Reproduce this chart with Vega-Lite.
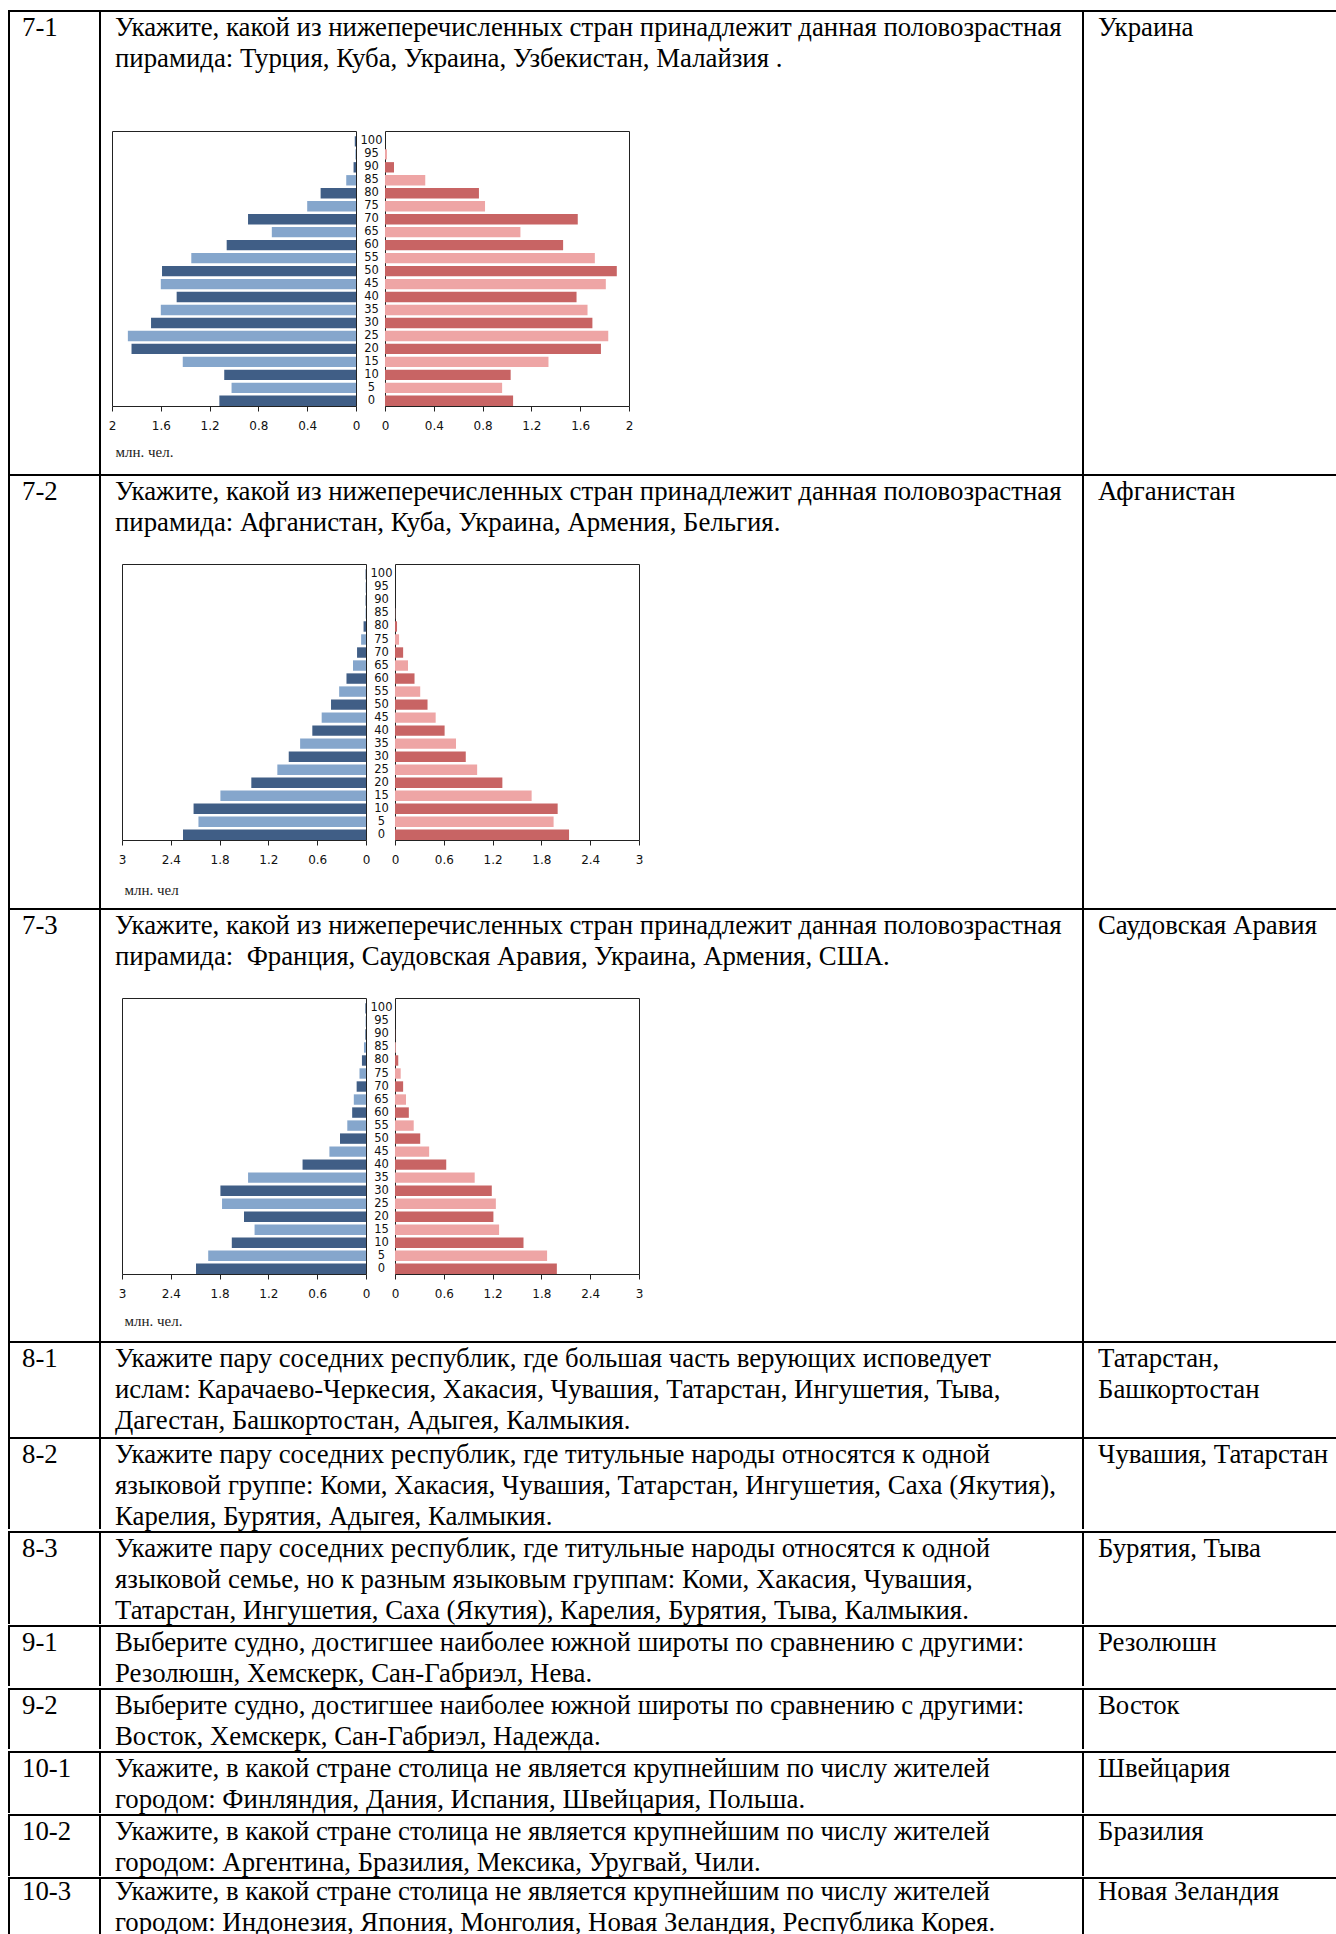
{
  "$schema": "https://vega.github.io/schema/vega-lite/v6.json",
  "background": "white",
  "padding": {"left": 8, "top": 10, "right": 0, "bottom": 0},
  "spacing": 0,
  "config": {
    "view": {"stroke": null},
    "text": {"font": "Liberation Serif", "fontSize": 26.8, "lineHeight": 31, "lineBreak": "\n", "align": "left", "baseline": "top", "color": "#000"},
    "axis": {"labelFont": "DejaVu Sans", "labelFontSize": 12, "labelColor": "#111", "tickColor": "#222", "tickSize": 5, "domain": false, "grid": false, "labelFlush": false, "labelOverlap": false, "labelPadding": 9, "titleFont": "Liberation Serif", "titleFontWeight": "normal", "titleFontSize": 15, "titleColor": "#222"}
  },
  "datasets": {
    "cells": [
      {"id": "7-1", "question": "Укажите, какой из нижеперечисленных стран принадлежит данная половозрастная\nпирамида: Турция, Куба, Украина, Узбекистан, Малайзия .", "answer": "Украина"},
      {"id": "7-2", "question": "Укажите, какой из нижеперечисленных стран принадлежит данная половозрастная\nпирамида: Афганистан, Куба, Украина, Армения, Бельгия.", "answer": "Афганистан"},
      {"id": "7-3", "question": "Укажите, какой из нижеперечисленных стран принадлежит данная половозрастная\nпирамида:\u00a0 Франция, Саудовская Аравия, Украина, Армения, США.", "answer": "Саудовская Аравия"},
      {"id": "8-1", "question": "Укажите пару соседних республик, где большая часть верующих исповедует\nислам: Карачаево-Черкесия, Хакасия, Чувашия, Татарстан, Ингушетия, Тыва,\nДагестан, Башкортостан, Адыгея, Калмыкия.", "answer": "Татарстан,\nБашкортостан"},
      {"id": "8-2", "question": "Укажите пару соседних республик, где титульные народы относятся к одной\nязыковой группе: Коми, Хакасия, Чувашия, Татарстан, Ингушетия, Саха (Якутия),\nКарелия, Бурятия, Адыгея, Калмыкия.", "answer": "Чувашия, Татарстан"},
      {"id": "8-3", "question": "Укажите пару соседних республик, где титульные народы относятся к одной\nязыковой семье, но к разным языковым группам: Коми, Хакасия, Чувашия,\nТатарстан, Ингушетия, Саха (Якутия), Карелия, Бурятия, Тыва, Калмыкия.", "answer": "Бурятия, Тыва"},
      {"id": "9-1", "question": "Выберите судно, достигшее наиболее южной широты по сравнению с другими:\nРезолюшн, Хемскерк, Сан-Габриэл, Нева.", "answer": "Резолюшн"},
      {"id": "9-2", "question": "Выберите судно, достигшее наиболее южной широты по сравнению с другими:\nВосток, Хемскерк, Сан-Габриэл, Надежда.", "answer": "Восток"},
      {"id": "10-1", "question": "Укажите, в какой стране столица не является крупнейшим по числу жителей\nгородом: Финляндия, Дания, Испания, Швейцария, Польша.", "answer": "Швейцария"},
      {"id": "10-2", "question": "Укажите, в какой стране столица не является крупнейшим по числу жителей\nгородом: Аргентина, Бразилия, Мексика, Уругвай, Чили.", "answer": "Бразилия"},
      {"id": "10-3", "question": "Укажите, в какой стране столица не является крупнейшим по числу жителей\nгородом: Индонезия, Япония, Монголия, Новая Зеландия, Республика Корея.", "answer": "Новая Зеландия"}
    ],
    "pyr": [
      {"chart": "7-1", "age": 100, "male": 0.01, "female": 0.0},
      {"chart": "7-1", "age": 95, "male": 0.005, "female": 0.016},
      {"chart": "7-1", "age": 90, "male": 0.02, "female": 0.074},
      {"chart": "7-1", "age": 85, "male": 0.08, "female": 0.33},
      {"chart": "7-1", "age": 80, "male": 0.29, "female": 0.77},
      {"chart": "7-1", "age": 75, "male": 0.40, "female": 0.82},
      {"chart": "7-1", "age": 70, "male": 0.885, "female": 1.58},
      {"chart": "7-1", "age": 65, "male": 0.69, "female": 1.11},
      {"chart": "7-1", "age": 60, "male": 1.06, "female": 1.46},
      {"chart": "7-1", "age": 55, "male": 1.35, "female": 1.72},
      {"chart": "7-1", "age": 50, "male": 1.59, "female": 1.90},
      {"chart": "7-1", "age": 45, "male": 1.60, "female": 1.81},
      {"chart": "7-1", "age": 40, "male": 1.47, "female": 1.57},
      {"chart": "7-1", "age": 35, "male": 1.60, "female": 1.66},
      {"chart": "7-1", "age": 30, "male": 1.68, "female": 1.70},
      {"chart": "7-1", "age": 25, "male": 1.87, "female": 1.83},
      {"chart": "7-1", "age": 20, "male": 1.84, "female": 1.77},
      {"chart": "7-1", "age": 15, "male": 1.42, "female": 1.34},
      {"chart": "7-1", "age": 10, "male": 1.08, "female": 1.03},
      {"chart": "7-1", "age": 5, "male": 1.02, "female": 0.96},
      {"chart": "7-1", "age": 0, "male": 1.12, "female": 1.05},
      {"chart": "7-2", "age": 100, "male": 0.005, "female": 0.0},
      {"chart": "7-2", "age": 95, "male": 0.005, "female": 0.0},
      {"chart": "7-2", "age": 90, "male": 0.005, "female": 0.0},
      {"chart": "7-2", "age": 85, "male": 0.005, "female": 0.003},
      {"chart": "7-2", "age": 80, "male": 0.03, "female": 0.025},
      {"chart": "7-2", "age": 75, "male": 0.06, "female": 0.05},
      {"chart": "7-2", "age": 70, "male": 0.11, "female": 0.10},
      {"chart": "7-2", "age": 65, "male": 0.16, "female": 0.16},
      {"chart": "7-2", "age": 60, "male": 0.24, "female": 0.24},
      {"chart": "7-2", "age": 55, "male": 0.33, "female": 0.31},
      {"chart": "7-2", "age": 50, "male": 0.43, "female": 0.40},
      {"chart": "7-2", "age": 45, "male": 0.545, "female": 0.50},
      {"chart": "7-2", "age": 40, "male": 0.66, "female": 0.61},
      {"chart": "7-2", "age": 35, "male": 0.81, "female": 0.75},
      {"chart": "7-2", "age": 30, "male": 0.95, "female": 0.87},
      {"chart": "7-2", "age": 25, "male": 1.09, "female": 1.01},
      {"chart": "7-2", "age": 20, "male": 1.41, "female": 1.32},
      {"chart": "7-2", "age": 15, "male": 1.79, "female": 1.68},
      {"chart": "7-2", "age": 10, "male": 2.12, "female": 2.00},
      {"chart": "7-2", "age": 5, "male": 2.06, "female": 1.95},
      {"chart": "7-2", "age": 0, "male": 2.25, "female": 2.14},
      {"chart": "7-3", "age": 100, "male": 0.008, "female": 0.0},
      {"chart": "7-3", "age": 95, "male": 0.005, "female": 0.0},
      {"chart": "7-3", "age": 90, "male": 0.008, "female": 0.002},
      {"chart": "7-3", "age": 85, "male": 0.025, "female": 0.01},
      {"chart": "7-3", "age": 80, "male": 0.05, "female": 0.04},
      {"chart": "7-3", "age": 75, "male": 0.08, "female": 0.07},
      {"chart": "7-3", "age": 70, "male": 0.115, "female": 0.10},
      {"chart": "7-3", "age": 65, "male": 0.15, "female": 0.135},
      {"chart": "7-3", "age": 60, "male": 0.17, "female": 0.17},
      {"chart": "7-3", "age": 55, "male": 0.23, "female": 0.23},
      {"chart": "7-3", "age": 50, "male": 0.32, "female": 0.31},
      {"chart": "7-3", "age": 45, "male": 0.45, "female": 0.42},
      {"chart": "7-3", "age": 40, "male": 0.78, "female": 0.63},
      {"chart": "7-3", "age": 35, "male": 1.45, "female": 0.98},
      {"chart": "7-3", "age": 30, "male": 1.79, "female": 1.19},
      {"chart": "7-3", "age": 25, "male": 1.77, "female": 1.24},
      {"chart": "7-3", "age": 20, "male": 1.50, "female": 1.21},
      {"chart": "7-3", "age": 15, "male": 1.37, "female": 1.28},
      {"chart": "7-3", "age": 10, "male": 1.65, "female": 1.58},
      {"chart": "7-3", "age": 5, "male": 1.94, "female": 1.87},
      {"chart": "7-3", "age": 0, "male": 2.09, "female": 1.99}
    ]
  },
  "vconcat": [
    {"width": 1328, "height": 2, "view": {"fill": "#000", "stroke": null}, "data": {"values": []}, "mark": "point"},
    {"hconcat": [
      {"width": 2, "height": 462, "view": {"fill": "#000", "stroke": null}, "data": {"values": []}, "mark": "point"},
      {"width": 89, "height": 462, "data": {"name": "cells"}, "transform": [{"filter": "datum.id === '7-1'"}], "mark": {"type": "text", "x": 12, "y": 3}, "encoding": {"text": {"field": "id", "type": "nominal"}}},
      {"width": 2, "height": 462, "view": {"fill": "#000", "stroke": null}, "data": {"values": []}, "mark": "point"},
      {"vconcat": [
        {"width": 981, "height": 118, "data": {"name": "cells"}, "transform": [{"filter": "datum.id === '7-1'"}], "mark": {"type": "text", "x": 14, "y": 3}, "encoding": {"text": {"field": "question", "type": "nominal"}}},
        {"hconcat": [
          {"width": 11, "height": 343, "data": {"values": []}, "mark": "point"},
          {"width": 244, "height": 275, "data": {"name": "pyr"}, "transform": [{"filter": "datum.chart === '7-1'"}], "view": {"stroke": "#222", "strokeWidth": 1}, "mark": {"type": "bar"},
           "encoding": {
             "y": {"field": "age", "type": "ordinal", "sort": "descending", "scale": {"paddingInner": 0.2, "paddingOuter": 0.2, "align": 1}, "axis": null},
             "x": {"field": "male", "type": "quantitative", "scale": {"domain": [0, 2], "reverse": true, "nice": false}, "axis": {"values": [0, 0.4, 0.8, 1.2, 1.6, 2], "format": "~g", "title": "млн. чел.", "titleX": 3, "titleY": 45, "titleAlign": "left", "titleBaseline": "middle"}},
             "color": {"condition": {"test": "datum.age % 10 === 0", "value": "#405e86"}, "value": "#85a6cc"}}},
          {"width": 29, "height": 343, "data": {"values": []}, "mark": "point"},
          {"width": 244, "height": 275, "data": {"name": "pyr"}, "transform": [{"filter": "datum.chart === '7-1'"}], "view": {"stroke": "#222", "strokeWidth": 1}, "mark": {"type": "bar"},
           "encoding": {
             "y": {"field": "age", "type": "ordinal", "sort": "descending", "scale": {"paddingInner": 0.2, "paddingOuter": 0.2, "align": 1}, "axis": {"orient": "left", "ticks": false, "labelAlign": "center", "labelBaseline": "middle", "labelPadding": 14, "labelFontSize": 11.5, "title": null}},
             "x": {"field": "female", "type": "quantitative", "scale": {"domain": [0, 2], "nice": false}, "axis": {"values": [0, 0.4, 0.8, 1.2, 1.6, 2], "format": "~g", "title": null}},
             "color": {"condition": {"test": "datum.age % 10 === 0", "value": "#c86464"}, "value": "#eea5a5"}}},
          {"width": 453, "height": 343, "data": {"values": []}, "mark": "point"}
        ], "spacing": 0, "bounds": "flush", "resolve": {"scale": {"x": "independent", "y": "independent"}}}
      ], "spacing": 0},
      {"width": 2, "height": 462, "view": {"fill": "#000", "stroke": null}, "data": {"values": []}, "mark": "point"},
      {"width": 252, "height": 462, "data": {"name": "cells"}, "transform": [{"filter": "datum.id === '7-1'"}], "mark": {"type": "text", "x": 14, "y": 3}, "encoding": {"text": {"field": "answer", "type": "nominal"}}}
    ], "spacing": 0},
    {"width": 1328, "height": 2, "view": {"fill": "#000", "stroke": null}, "data": {"values": []}, "mark": "point"},
    {"hconcat": [
      {"width": 2, "height": 432, "view": {"fill": "#000", "stroke": null}, "data": {"values": []}, "mark": "point"},
      {"width": 89, "height": 432, "data": {"name": "cells"}, "transform": [{"filter": "datum.id === '7-2'"}], "mark": {"type": "text", "x": 12, "y": 3}, "encoding": {"text": {"field": "id", "type": "nominal"}}},
      {"width": 2, "height": 432, "view": {"fill": "#000", "stroke": null}, "data": {"values": []}, "mark": "point"},
      {"vconcat": [
        {"width": 981, "height": 87, "data": {"name": "cells"}, "transform": [{"filter": "datum.id === '7-2'"}], "mark": {"type": "text", "x": 14, "y": 3}, "encoding": {"text": {"field": "question", "type": "nominal"}}},
        {"hconcat": [
          {"width": 21, "height": 344, "data": {"values": []}, "mark": "point"},
          {"width": 244, "height": 276, "data": {"name": "pyr"}, "transform": [{"filter": "datum.chart === '7-2'"}], "view": {"stroke": "#222", "strokeWidth": 1}, "mark": {"type": "bar"},
           "encoding": {
             "y": {"field": "age", "type": "ordinal", "sort": "descending", "scale": {"paddingInner": 0.2, "paddingOuter": 0.2, "align": 1}, "axis": null},
             "x": {"field": "male", "type": "quantitative", "scale": {"domain": [0, 3], "reverse": true, "nice": false}, "axis": {"values": [0, 0.6, 1.2, 1.8, 2.4, 3], "format": "~g", "title": "млн. чел", "titleX": 2, "titleY": 49, "titleAlign": "left", "titleBaseline": "middle"}},
             "color": {"condition": {"test": "datum.age % 10 === 0", "value": "#405e86"}, "value": "#85a6cc"}}},
          {"width": 29, "height": 344, "data": {"values": []}, "mark": "point"},
          {"width": 244, "height": 276, "data": {"name": "pyr"}, "transform": [{"filter": "datum.chart === '7-2'"}], "view": {"stroke": "#222", "strokeWidth": 1}, "mark": {"type": "bar"},
           "encoding": {
             "y": {"field": "age", "type": "ordinal", "sort": "descending", "scale": {"paddingInner": 0.2, "paddingOuter": 0.2, "align": 1}, "axis": {"orient": "left", "ticks": false, "labelAlign": "center", "labelBaseline": "middle", "labelPadding": 14, "labelFontSize": 11.5, "title": null}},
             "x": {"field": "female", "type": "quantitative", "scale": {"domain": [0, 3], "nice": false}, "axis": {"values": [0, 0.6, 1.2, 1.8, 2.4, 3], "format": "~g", "title": null}},
             "color": {"condition": {"test": "datum.age % 10 === 0", "value": "#c86464"}, "value": "#eea5a5"}}},
          {"width": 443, "height": 344, "data": {"values": []}, "mark": "point"}
        ], "spacing": 0, "bounds": "flush", "resolve": {"scale": {"x": "independent", "y": "independent"}}}
      ], "spacing": 0},
      {"width": 2, "height": 432, "view": {"fill": "#000", "stroke": null}, "data": {"values": []}, "mark": "point"},
      {"width": 252, "height": 432, "data": {"name": "cells"}, "transform": [{"filter": "datum.id === '7-2'"}], "mark": {"type": "text", "x": 14, "y": 3}, "encoding": {"text": {"field": "answer", "type": "nominal"}}}
    ], "spacing": 0},
    {"width": 1328, "height": 2, "view": {"fill": "#000", "stroke": null}, "data": {"values": []}, "mark": "point"},
    {"hconcat": [
      {"width": 2, "height": 431, "view": {"fill": "#000", "stroke": null}, "data": {"values": []}, "mark": "point"},
      {"width": 89, "height": 431, "data": {"name": "cells"}, "transform": [{"filter": "datum.id === '7-3'"}], "mark": {"type": "text", "x": 12, "y": 3}, "encoding": {"text": {"field": "id", "type": "nominal"}}},
      {"width": 2, "height": 431, "view": {"fill": "#000", "stroke": null}, "data": {"values": []}, "mark": "point"},
      {"vconcat": [
        {"width": 981, "height": 87, "data": {"name": "cells"}, "transform": [{"filter": "datum.id === '7-3'"}], "mark": {"type": "text", "x": 14, "y": 3}, "encoding": {"text": {"field": "question", "type": "nominal"}}},
        {"hconcat": [
          {"width": 21, "height": 343, "data": {"values": []}, "mark": "point"},
          {"width": 244, "height": 276, "data": {"name": "pyr"}, "transform": [{"filter": "datum.chart === '7-3'"}], "view": {"stroke": "#222", "strokeWidth": 1}, "mark": {"type": "bar"},
           "encoding": {
             "y": {"field": "age", "type": "ordinal", "sort": "descending", "scale": {"paddingInner": 0.2, "paddingOuter": 0.2, "align": 1}, "axis": null},
             "x": {"field": "male", "type": "quantitative", "scale": {"domain": [0, 3], "reverse": true, "nice": false}, "axis": {"values": [0, 0.6, 1.2, 1.8, 2.4, 3], "format": "~g", "title": "млн. чел.", "titleX": 2, "titleY": 46, "titleAlign": "left", "titleBaseline": "middle"}},
             "color": {"condition": {"test": "datum.age % 10 === 0", "value": "#405e86"}, "value": "#85a6cc"}}},
          {"width": 29, "height": 343, "data": {"values": []}, "mark": "point"},
          {"width": 244, "height": 276, "data": {"name": "pyr"}, "transform": [{"filter": "datum.chart === '7-3'"}], "view": {"stroke": "#222", "strokeWidth": 1}, "mark": {"type": "bar"},
           "encoding": {
             "y": {"field": "age", "type": "ordinal", "sort": "descending", "scale": {"paddingInner": 0.2, "paddingOuter": 0.2, "align": 1}, "axis": {"orient": "left", "ticks": false, "labelAlign": "center", "labelBaseline": "middle", "labelPadding": 14, "labelFontSize": 11.5, "title": null}},
             "x": {"field": "female", "type": "quantitative", "scale": {"domain": [0, 3], "nice": false}, "axis": {"values": [0, 0.6, 1.2, 1.8, 2.4, 3], "format": "~g", "title": null}},
             "color": {"condition": {"test": "datum.age % 10 === 0", "value": "#c86464"}, "value": "#eea5a5"}}},
          {"width": 443, "height": 343, "data": {"values": []}, "mark": "point"}
        ], "spacing": 0, "bounds": "flush", "resolve": {"scale": {"x": "independent", "y": "independent"}}}
      ], "spacing": 0},
      {"width": 2, "height": 431, "view": {"fill": "#000", "stroke": null}, "data": {"values": []}, "mark": "point"},
      {"width": 252, "height": 431, "data": {"name": "cells"}, "transform": [{"filter": "datum.id === '7-3'"}], "mark": {"type": "text", "x": 14, "y": 3}, "encoding": {"text": {"field": "answer", "type": "nominal"}}}
    ], "spacing": 0},
    {"width": 1328, "height": 2, "view": {"fill": "#000", "stroke": null}, "data": {"values": []}, "mark": "point"},
    {"hconcat": [
      {"width": 2, "height": 94, "view": {"fill": "#000", "stroke": null}, "data": {"values": []}, "mark": "point"},
      {"width": 89, "height": 94, "data": {"name": "cells"}, "transform": [{"filter": "datum.id === '8-1'"}], "mark": {"type": "text", "x": 12, "y": 3}, "encoding": {"text": {"field": "id", "type": "nominal"}}},
      {"width": 2, "height": 94, "view": {"fill": "#000", "stroke": null}, "data": {"values": []}, "mark": "point"},
      {"width": 981, "height": 94, "data": {"name": "cells"}, "transform": [{"filter": "datum.id === '8-1'"}], "mark": {"type": "text", "x": 14, "y": 3}, "encoding": {"text": {"field": "question", "type": "nominal"}}},
      {"width": 2, "height": 94, "view": {"fill": "#000", "stroke": null}, "data": {"values": []}, "mark": "point"},
      {"width": 252, "height": 94, "data": {"name": "cells"}, "transform": [{"filter": "datum.id === '8-1'"}], "mark": {"type": "text", "x": 14, "y": 3}, "encoding": {"text": {"field": "answer", "type": "nominal"}}}
    ], "spacing": 0},
    {"width": 1328, "height": 2, "view": {"fill": "#000", "stroke": null}, "data": {"values": []}, "mark": "point"},
    {"hconcat": [
      {"width": 2, "height": 90, "view": {"fill": "#000", "stroke": null}, "data": {"values": []}, "mark": "point"},
      {"width": 89, "height": 90, "data": {"name": "cells"}, "transform": [{"filter": "datum.id === '8-2'"}], "mark": {"type": "text", "x": 12, "y": 3}, "encoding": {"text": {"field": "id", "type": "nominal"}}},
      {"width": 2, "height": 90, "view": {"fill": "#000", "stroke": null}, "data": {"values": []}, "mark": "point"},
      {"width": 981, "height": 90, "data": {"name": "cells"}, "transform": [{"filter": "datum.id === '8-2'"}], "mark": {"type": "text", "x": 14, "y": 3}, "encoding": {"text": {"field": "question", "type": "nominal"}}},
      {"width": 2, "height": 90, "view": {"fill": "#000", "stroke": null}, "data": {"values": []}, "mark": "point"},
      {"width": 252, "height": 90, "data": {"name": "cells"}, "transform": [{"filter": "datum.id === '8-2'"}], "mark": {"type": "text", "x": 14, "y": 3}, "encoding": {"text": {"field": "answer", "type": "nominal"}}}
    ], "spacing": 0},
    {"width": 1328, "height": 2, "view": {"fill": "#000", "stroke": null}, "data": {"values": []}, "mark": "point"},
    {"hconcat": [
      {"width": 2, "height": 91, "view": {"fill": "#000", "stroke": null}, "data": {"values": []}, "mark": "point"},
      {"width": 89, "height": 91, "data": {"name": "cells"}, "transform": [{"filter": "datum.id === '8-3'"}], "mark": {"type": "text", "x": 12, "y": 3}, "encoding": {"text": {"field": "id", "type": "nominal"}}},
      {"width": 2, "height": 91, "view": {"fill": "#000", "stroke": null}, "data": {"values": []}, "mark": "point"},
      {"width": 981, "height": 91, "data": {"name": "cells"}, "transform": [{"filter": "datum.id === '8-3'"}], "mark": {"type": "text", "x": 14, "y": 3}, "encoding": {"text": {"field": "question", "type": "nominal"}}},
      {"width": 2, "height": 91, "view": {"fill": "#000", "stroke": null}, "data": {"values": []}, "mark": "point"},
      {"width": 252, "height": 91, "data": {"name": "cells"}, "transform": [{"filter": "datum.id === '8-3'"}], "mark": {"type": "text", "x": 14, "y": 3}, "encoding": {"text": {"field": "answer", "type": "nominal"}}}
    ], "spacing": 0},
    {"width": 1328, "height": 2, "view": {"fill": "#000", "stroke": null}, "data": {"values": []}, "mark": "point"},
    {"hconcat": [
      {"width": 2, "height": 59, "view": {"fill": "#000", "stroke": null}, "data": {"values": []}, "mark": "point"},
      {"width": 89, "height": 59, "data": {"name": "cells"}, "transform": [{"filter": "datum.id === '9-1'"}], "mark": {"type": "text", "x": 12, "y": 3}, "encoding": {"text": {"field": "id", "type": "nominal"}}},
      {"width": 2, "height": 59, "view": {"fill": "#000", "stroke": null}, "data": {"values": []}, "mark": "point"},
      {"width": 981, "height": 59, "data": {"name": "cells"}, "transform": [{"filter": "datum.id === '9-1'"}], "mark": {"type": "text", "x": 14, "y": 3}, "encoding": {"text": {"field": "question", "type": "nominal"}}},
      {"width": 2, "height": 59, "view": {"fill": "#000", "stroke": null}, "data": {"values": []}, "mark": "point"},
      {"width": 252, "height": 59, "data": {"name": "cells"}, "transform": [{"filter": "datum.id === '9-1'"}], "mark": {"type": "text", "x": 14, "y": 3}, "encoding": {"text": {"field": "answer", "type": "nominal"}}}
    ], "spacing": 0},
    {"width": 1328, "height": 2, "view": {"fill": "#000", "stroke": null}, "data": {"values": []}, "mark": "point"},
    {"hconcat": [
      {"width": 2, "height": 59, "view": {"fill": "#000", "stroke": null}, "data": {"values": []}, "mark": "point"},
      {"width": 89, "height": 59, "data": {"name": "cells"}, "transform": [{"filter": "datum.id === '9-2'"}], "mark": {"type": "text", "x": 12, "y": 3}, "encoding": {"text": {"field": "id", "type": "nominal"}}},
      {"width": 2, "height": 59, "view": {"fill": "#000", "stroke": null}, "data": {"values": []}, "mark": "point"},
      {"width": 981, "height": 59, "data": {"name": "cells"}, "transform": [{"filter": "datum.id === '9-2'"}], "mark": {"type": "text", "x": 14, "y": 3}, "encoding": {"text": {"field": "question", "type": "nominal"}}},
      {"width": 2, "height": 59, "view": {"fill": "#000", "stroke": null}, "data": {"values": []}, "mark": "point"},
      {"width": 252, "height": 59, "data": {"name": "cells"}, "transform": [{"filter": "datum.id === '9-2'"}], "mark": {"type": "text", "x": 14, "y": 3}, "encoding": {"text": {"field": "answer", "type": "nominal"}}}
    ], "spacing": 0},
    {"width": 1328, "height": 2, "view": {"fill": "#000", "stroke": null}, "data": {"values": []}, "mark": "point"},
    {"hconcat": [
      {"width": 2, "height": 60, "view": {"fill": "#000", "stroke": null}, "data": {"values": []}, "mark": "point"},
      {"width": 89, "height": 60, "data": {"name": "cells"}, "transform": [{"filter": "datum.id === '10-1'"}], "mark": {"type": "text", "x": 12, "y": 3}, "encoding": {"text": {"field": "id", "type": "nominal"}}},
      {"width": 2, "height": 60, "view": {"fill": "#000", "stroke": null}, "data": {"values": []}, "mark": "point"},
      {"width": 981, "height": 60, "data": {"name": "cells"}, "transform": [{"filter": "datum.id === '10-1'"}], "mark": {"type": "text", "x": 14, "y": 3}, "encoding": {"text": {"field": "question", "type": "nominal"}}},
      {"width": 2, "height": 60, "view": {"fill": "#000", "stroke": null}, "data": {"values": []}, "mark": "point"},
      {"width": 252, "height": 60, "data": {"name": "cells"}, "transform": [{"filter": "datum.id === '10-1'"}], "mark": {"type": "text", "x": 14, "y": 3}, "encoding": {"text": {"field": "answer", "type": "nominal"}}}
    ], "spacing": 0},
    {"width": 1328, "height": 2, "view": {"fill": "#000", "stroke": null}, "data": {"values": []}, "mark": "point"},
    {"hconcat": [
      {"width": 2, "height": 60, "view": {"fill": "#000", "stroke": null}, "data": {"values": []}, "mark": "point"},
      {"width": 89, "height": 60, "data": {"name": "cells"}, "transform": [{"filter": "datum.id === '10-2'"}], "mark": {"type": "text", "x": 12, "y": 3}, "encoding": {"text": {"field": "id", "type": "nominal"}}},
      {"width": 2, "height": 60, "view": {"fill": "#000", "stroke": null}, "data": {"values": []}, "mark": "point"},
      {"width": 981, "height": 60, "data": {"name": "cells"}, "transform": [{"filter": "datum.id === '10-2'"}], "mark": {"type": "text", "x": 14, "y": 3}, "encoding": {"text": {"field": "question", "type": "nominal"}}},
      {"width": 2, "height": 60, "view": {"fill": "#000", "stroke": null}, "data": {"values": []}, "mark": "point"},
      {"width": 252, "height": 60, "data": {"name": "cells"}, "transform": [{"filter": "datum.id === '10-2'"}], "mark": {"type": "text", "x": 14, "y": 3}, "encoding": {"text": {"field": "answer", "type": "nominal"}}}
    ], "spacing": 0},
    {"width": 1328, "height": 2, "view": {"fill": "#000", "stroke": null}, "data": {"values": []}, "mark": "point"},
    {"hconcat": [
      {"width": 2, "height": 64, "view": {"fill": "#000", "stroke": null}, "data": {"values": []}, "mark": "point"},
      {"width": 89, "height": 64, "data": {"name": "cells"}, "transform": [{"filter": "datum.id === '10-3'"}], "mark": {"type": "text", "x": 12, "y": 0}, "encoding": {"text": {"field": "id", "type": "nominal"}}},
      {"width": 2, "height": 64, "view": {"fill": "#000", "stroke": null}, "data": {"values": []}, "mark": "point"},
      {"width": 981, "height": 64, "data": {"name": "cells"}, "transform": [{"filter": "datum.id === '10-3'"}], "mark": {"type": "text", "x": 14, "y": 0}, "encoding": {"text": {"field": "question", "type": "nominal"}}},
      {"width": 2, "height": 64, "view": {"fill": "#000", "stroke": null}, "data": {"values": []}, "mark": "point"},
      {"width": 252, "height": 64, "data": {"name": "cells"}, "transform": [{"filter": "datum.id === '10-3'"}], "mark": {"type": "text", "x": 14, "y": 0}, "encoding": {"text": {"field": "answer", "type": "nominal"}}}
    ], "spacing": 0}
  ]
}
